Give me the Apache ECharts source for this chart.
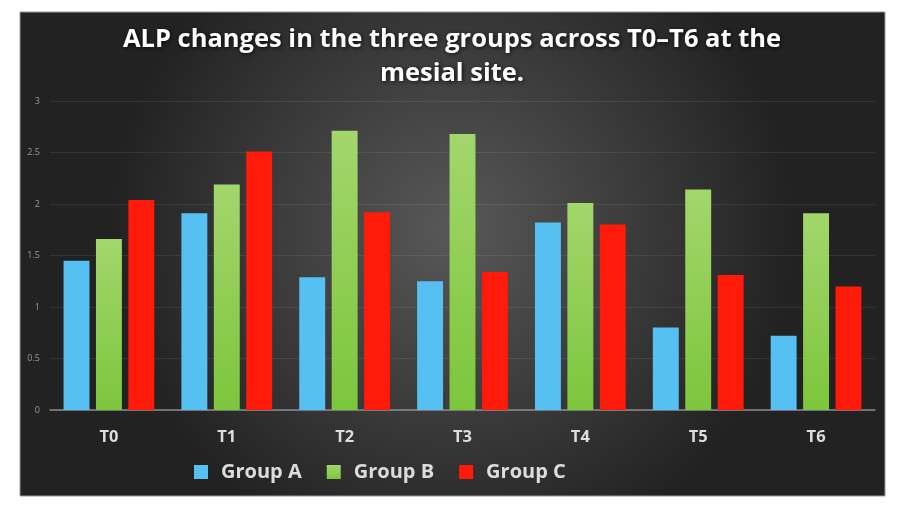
<!DOCTYPE html>
<html>
<head>
<meta charset="utf-8">
<script src="https://cdn.jsdelivr.net/npm/echarts@6/dist/echarts.min.js"></script>
<style>
  html, body { margin: 0; padding: 0; background: #fff; }
  #chart { width: 904px; height: 508px; }
</style>
</head>
<body>
<div id="chart"></div>
<script>
// ALP 数据
var categories = ['T0', 'T1', 'T2', 'T3', 'T4', 'T5', 'T6'];
var groupA = [1.45, 1.91, 1.29, 1.25, 1.82, 0.80, 0.72];
var groupB = [1.66, 2.19, 2.71, 2.68, 2.01, 2.14, 1.91];
var groupC = [2.04, 2.51, 1.92, 1.34, 1.80, 1.31, 1.20];
var seriesNames = ['Group A', 'Group B', 'Group C'];
var yTicks = [0, 0.5, 1, 1.5, 2, 2.5, 3];

var chart = echarts.init(document.getElementById('chart'));

var greenFill = new echarts.graphic.LinearGradient(0, 0, 0, 1, [
    { offset: 0, color: '#a3d66c' },
    { offset: 1, color: '#7cc63c' }
]);

var option = {
    backgroundColor: '#ffffff',
    graphic: [
        {
            type: 'rect',
            z: -10,
            shape: { x: 20, y: 12, width: 865, height: 484 },
            style: {
                fill: new echarts.graphic.RadialGradient(0.5, 0.45, 0.7, [
                    { offset: 0, color: '#585858' },
                    { offset: 1, color: '#222222' }
                ]),
                stroke: '#9a9a9a',
                lineWidth: 1
            }
        }
    ],
    title: {
        text: 'ALP changes in the three groups across T0\u2013T6 at the\nmesial site.',
        left: 'center',
        top: 18,
        textStyle: {
            color: '#ffffff',
            fontFamily: 'Open Sans',
            fontWeight: 'bold',
            fontSize: 25.5,
            lineHeight: 34,
            textShadowColor: 'rgba(0,0,0,0.8)',
            textShadowBlur: 4,
            textShadowOffsetX: 1,
            textShadowOffsetY: 1
        }
    },
    legend: {
        data: seriesNames,
        left: 189,
        top: 457,
        itemWidth: 14,
        itemHeight: 14,
        itemGap: 25,
        icon: 'rect',
        textStyle: {
            color: '#dddddd',
            fontFamily: 'Open Sans',
            fontWeight: 'bold',
            fontSize: 20,
            padding: [0, 0, 0, 8]
        }
    },
    grid: {
        left: 50,
        right: 29,
        top: 101,
        bottom: 98
    },
    xAxis: {
        type: 'category',
        data: categories,
        axisTick: { show: false },
        axisLine: { lineStyle: { color: '#8a8a8a', width: 1.5 } },
        axisLabel: {
            color: '#dddddd',
            fontFamily: 'Open Sans',
            fontWeight: 'bold',
            fontSize: 16.5,
            margin: 19
        }
    },
    yAxis: {
        type: 'value',
        min: yTicks[0],
        max: yTicks[yTicks.length - 1],
        interval: 0.5,
        axisLine: { show: false },
        axisTick: { show: false },
        axisLabel: {
            color: '#9a9a9a',
            fontFamily: 'Open Sans',
            fontSize: 9,
            margin: 10
        },
        splitLine: { lineStyle: { color: 'rgba(255,255,255,0.08)', width: 1 } }
    },
    series: [
        {
            name: seriesNames[0],
            type: 'bar',
            data: groupA,
            barWidth: '22%',
            barGap: '25%',
            itemStyle: { color: '#57c0f2' }
        },
        {
            name: seriesNames[1],
            type: 'bar',
            data: groupB,
            barWidth: '22%',
            barGap: '25%',
            itemStyle: { color: greenFill }
        },
        {
            name: seriesNames[2],
            type: 'bar',
            data: groupC,
            barWidth: '22%',
            barGap: '25%',
            itemStyle: { color: '#ff1a0a' }
        }
    ]
};

chart.setOption(option);
</script>
</body>
</html>
